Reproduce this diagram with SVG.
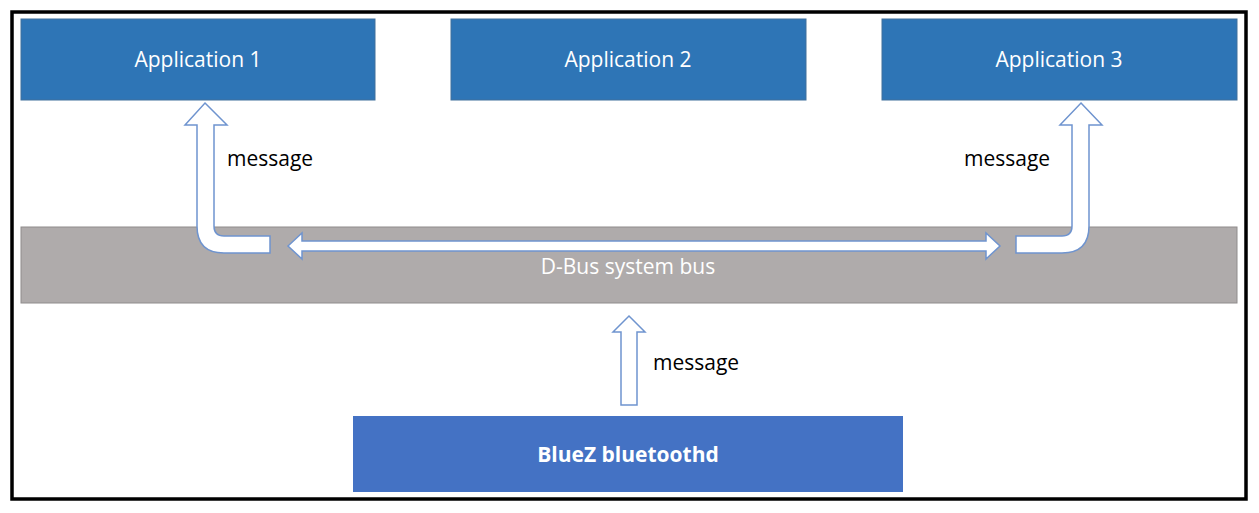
<svg xmlns="http://www.w3.org/2000/svg" width="1259" height="513" viewBox="0 0 1259 513">
<style>
.app{fill:#2e75b6;stroke:#41719c;stroke-width:1}
.t{font-family:"Open Sans","Liberation Sans",sans-serif;font-size:21px;fill:#fff;text-anchor:middle}
.m{font-family:"Open Sans","Liberation Sans",sans-serif;font-size:21px;fill:#000}
.ar{fill:#fff;stroke:#6f94cf;stroke-width:1.5;stroke-linejoin:miter}
</style>
<rect x="0" y="0" width="1259" height="513" fill="#fff"/>
<rect x="12" y="12" width="1234" height="487" fill="none" stroke="#000" stroke-width="3.5"/>
<g id="app1"><rect class="app" x="21" y="19" width="354" height="81"/><text class="t" x="198" y="67">Application 1</text></g>
<g id="app2"><rect class="app" x="451" y="19" width="355" height="81"/><text class="t" x="628" y="67">Application 2</text></g>
<g id="app3"><rect class="app" x="882" y="19" width="355" height="81"/><text class="t" x="1059" y="67">Application 3</text></g>
<g id="bus"><rect x="21" y="227" width="1216" height="76" fill="#afabab" stroke="#8f8c8c" stroke-width="1"/><text class="t" x="628" y="274" font-size="20">D-Bus system bus</text></g>
<g id="bluez"><rect x="353" y="416" width="550" height="76" fill="#4472c4"/><text class="t" x="628" y="462" font-weight="bold">BlueZ bluetoothd</text></g>
<g id="connectors">
<path class="ar" d="M205,103 L227,125 L214,125 L214,226 Q214,236 224,236 L270,236 L270,253 L224,253 Q197,253 197,226 L197,125 L185,125 Z"/>
<path class="ar" d="M1081,103 L1102,125 L1089,125 L1089,226 Q1089,253 1062,253 L1016,253 L1016,236 L1062,236 Q1072,236 1072,226 L1072,125 L1060,125 Z"/>
<path class="ar" d="M288,246 L302,233 L302,241 L986,241 L986,233 L1000,246 L986,259 L986,251 L302,251 L302,259 Z"/>
<path class="ar" d="M629,316 L645,332 L637,332 L637,405 L621,405 L621,332 L613,332 Z"/>
<text class="m" x="227" y="166">message</text>
<text class="m" x="964" y="166">message</text>
<text class="m" x="653" y="370">message</text>
</g>
</svg>
